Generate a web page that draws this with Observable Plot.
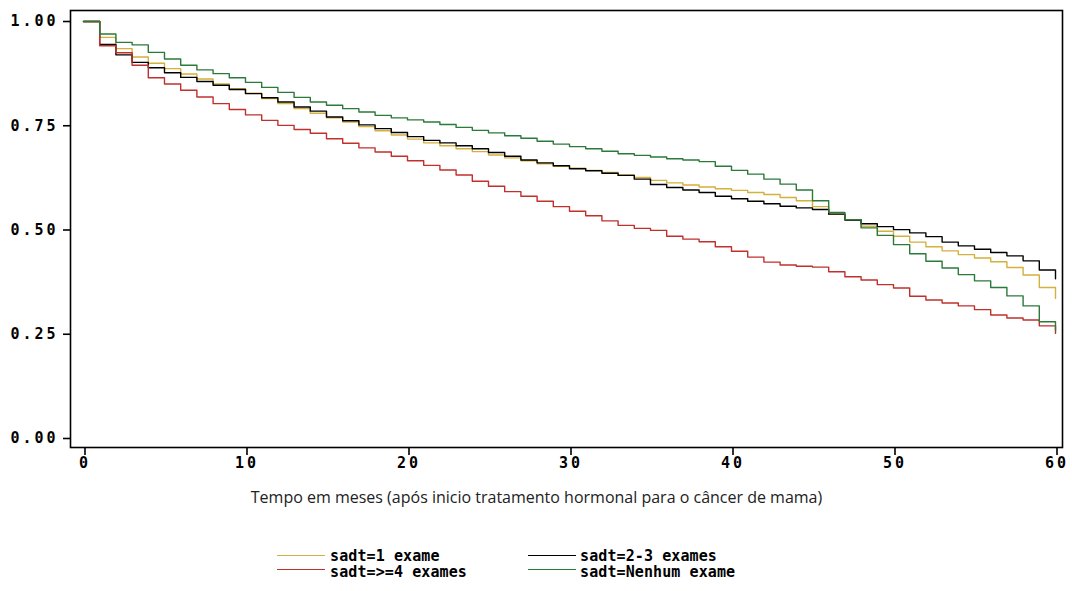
<!DOCTYPE html>
<html>
<head>
<meta charset="utf-8">
<script src="https://cdn.jsdelivr.net/npm/d3@7"></script>
<script src="https://cdn.jsdelivr.net/npm/@observablehq/plot@0.6"></script>
<style>
  html, body { margin: 0; padding: 0; background: #fff; }
  #wrap { position: relative; width: 1072px; height: 591px; overflow: hidden; }
  #chart svg { display: block; }
  g[aria-label="y-axis tick label"] text, g[aria-label="x-axis tick label"] text { letter-spacing: 3px; }
  .lg-line { position: absolute; height: 0; border-top: 1.4px solid; width: 48px; }
  .lg-text { position: absolute; font-family: "DejaVu Sans Mono", monospace; font-weight: bold; font-size: 15px; letter-spacing: 0.1px; line-height: 16px; white-space: pre; color: #000; }
</style>
</head>
<body>
<div id="wrap">
  <div id="chart"></div>
  <div id="legend"></div>
</div>
<script>
// ---- data ----
const months = [0,1,2,3,4,5,6,7,8,9,10,11,12,13,14,15,16,17,18,19,20,21,22,23,24,25,26,27,28,29,30,31,32,33,34,35,36,37,38,39,40,41,42,43,44,45,46,47,48,49,50,51,52,53,54,55,56,57,58,59,60];

const sadt1 = [1.000,0.962,0.935,0.915,0.900,0.887,0.874,0.862,0.850,0.839,0.828,0.815,0.803,0.791,0.780,0.769,0.759,0.748,0.738,0.728,0.718,0.709,0.702,0.695,0.688,0.680,0.673,0.666,0.659,0.653,0.648,0.643,0.638,0.632,0.626,0.619,0.613,0.608,0.603,0.599,0.595,0.590,0.585,0.578,0.570,0.556,0.538,0.524,0.509,0.497,0.485,0.471,0.460,0.450,0.441,0.433,0.424,0.410,0.392,0.362,0.336];

const sadt23 = [1.000,0.945,0.920,0.902,0.889,0.877,0.866,0.856,0.847,0.837,0.827,0.817,0.807,0.795,0.785,0.771,0.762,0.752,0.743,0.734,0.724,0.715,0.709,0.702,0.695,0.686,0.677,0.668,0.661,0.654,0.647,0.642,0.636,0.631,0.622,0.609,0.602,0.596,0.590,0.581,0.575,0.569,0.563,0.557,0.553,0.549,0.538,0.524,0.515,0.508,0.501,0.493,0.484,0.471,0.462,0.454,0.446,0.438,0.426,0.404,0.383];

const sadt4 = [1.000,0.942,0.925,0.895,0.865,0.850,0.835,0.819,0.803,0.789,0.776,0.763,0.751,0.741,0.732,0.719,0.708,0.697,0.687,0.677,0.666,0.655,0.644,0.632,0.617,0.605,0.592,0.581,0.569,0.556,0.545,0.534,0.522,0.511,0.504,0.499,0.485,0.478,0.472,0.460,0.449,0.435,0.423,0.416,0.413,0.411,0.400,0.388,0.380,0.369,0.361,0.341,0.332,0.325,0.318,0.309,0.296,0.289,0.284,0.270,0.252];

const sadtNenhum = [1.000,0.970,0.950,0.944,0.926,0.910,0.895,0.884,0.875,0.865,0.854,0.842,0.830,0.818,0.807,0.799,0.791,0.783,0.775,0.769,0.764,0.759,0.753,0.746,0.739,0.733,0.726,0.720,0.713,0.706,0.700,0.695,0.689,0.683,0.679,0.675,0.671,0.668,0.664,0.653,0.643,0.634,0.622,0.610,0.596,0.570,0.542,0.525,0.505,0.487,0.465,0.443,0.425,0.409,0.393,0.378,0.362,0.342,0.318,0.280,0.259];

const seriesNames = ["sadt=1 exame", "sadt=2-3 exames", "sadt=>=4 exames", "sadt=Nenhum exame"];
const seriesValues = [sadt1, sadt23, sadt4, sadtNenhum];
const seriesColors = ["#d4b03c", "#000000", "#c0302c", "#2a7a3a"];

const xTicks = [0, 10, 20, 30, 40, 50, 60];
const yTicks = [0, 0.25, 0.5, 0.75, 1];
const yTickLabels = ["0.00", "0.25", "0.50", "0.75", "1.00"];
const xTitle = "Tempo em meses (após inicio tratamento hormonal para o câncer de mama)";

// ---- build table ----
const rows = [];
seriesNames.forEach((name, i) => {
  months.forEach((t, j) => rows.push({ series: name, t, v: seriesValues[i][j] }));
});

const tickFont = { fontFamily: "DejaVu Sans Mono", fontWeight: "bold", fontSize: 15 };

const chart = Plot.plot({
  width: 1072,
  height: 530,
  marginLeft: 70,
  marginRight: 10,
  marginTop: 10,
  marginBottom: 83,
  style: { background: "#fff", color: "#000", overflow: "visible" },
  x: { domain: [-0.802, 60.432] },
  y: { domain: [-0.0216, 1.0264] },
  color: { domain: seriesNames, range: seriesColors },
  marks: [
    Plot.axisX({ ticks: xTicks, tickSize: 8, tickPadding: 2, tickFormat: d => String(d), label: null, strokeWidth: 1.6, ...tickFont, dx: 1.5 }),
    Plot.axisY({ ticks: yTicks, tickSize: 7, tickPadding: 5, tickFormat: d => yTickLabels[yTicks.indexOf(d)], label: null, strokeWidth: 1.6, ...tickFont }),
    Plot.line(rows, { x: "t", y: "v", z: "series", stroke: "series", curve: "step-after", strokeWidth: 1.4 }),
    Plot.frame({ stroke: "#000", strokeWidth: 1.6 }),
    Plot.text([xTitle], { frameAnchor: "bottom", dy: 55, dx: -30, text: d => d, fontFamily: "Open Sans", fontSize: 16, fill: "#222" })
  ]
});
document.getElementById("chart").appendChild(chart);

// ---- legend (HTML, below the SVG) ----
const legend = document.getElementById("legend");
const legendPos = [
  { lineX: 277, textX: 330, lineY: 555, textY: 548 },
  { lineX: 528, textX: 580, lineY: 555, textY: 548 },
  { lineX: 277, textX: 330, lineY: 569, textY: 564 },
  { lineX: 528, textX: 580, lineY: 569, textY: 564 }
];
seriesNames.forEach((name, i) => {
  const p = legendPos[i];
  const ln = document.createElement("div");
  ln.className = "lg-line";
  ln.style.left = p.lineX + "px";
  ln.style.top = p.lineY + "px";
  ln.style.borderTopColor = seriesColors[i];
  legend.appendChild(ln);
  const tx = document.createElement("div");
  tx.className = "lg-text";
  tx.style.left = p.textX + "px";
  tx.style.top = p.textY + "px";
  tx.textContent = name;
  legend.appendChild(tx);
});
</script>
</body>
</html>
